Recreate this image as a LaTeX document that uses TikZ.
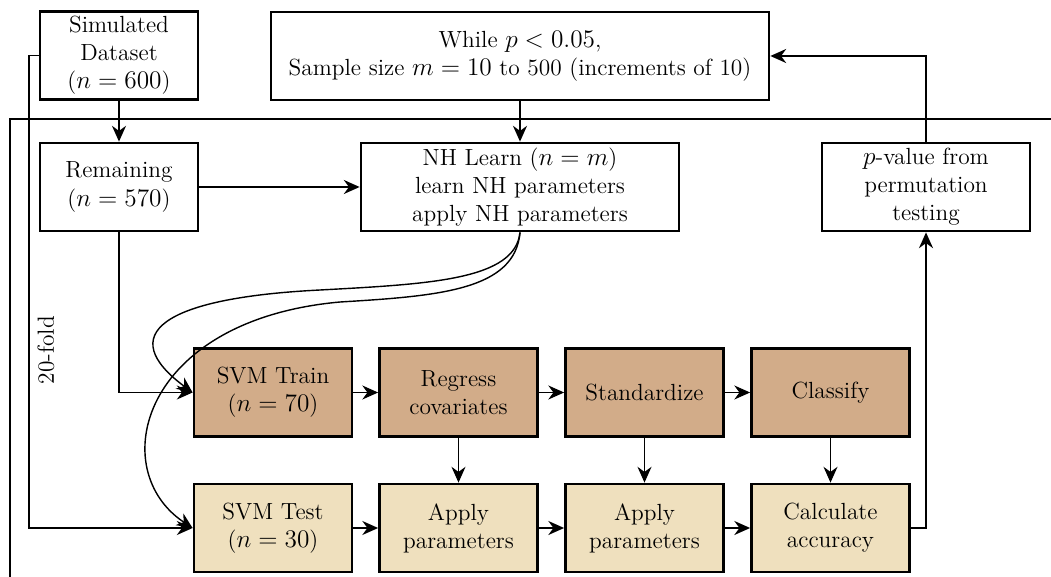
\documentclass[tikz,border=0pt]{standalone}
\usepackage{tikz}
\usetikzlibrary{arrows.meta}
\definecolor{trainfill}{RGB}{210,172,137}
\definecolor{testfill}{RGB}{239,224,190}
\tikzset{
    txt/.style={font=\fontsize{13.3}{16}\selectfont},
    box/.style={txt, draw, line width=1.6pt, align=center, inner sep=2pt,
        minimum height=1.76cm},
    arr/.style={line width=0.8pt, -{Stealth[length=9pt,width=8pt]}},
}

\begin{document}
\begin{tikzpicture}[x=0.02cm, y=-0.02cm]
    \useasboundingbox (0,0) rectangle (1051,577);
    % outer frame (open to the right and bottom)
    \draw[line width=1.6pt] (10,577)--(10,119)--(1051,119);

    \node[box, minimum width=3.16cm] (sim) at (119,55.5) {Simulated\\Dataset\\($n=600$)};
    \node[box, minimum width=9.96cm] (loop) at (520,56) {While $p<0.05$,\\Sample size $m=10$ to 500 (increments of 10)};
    \node[box, minimum width=3.16cm] (remain) at (119,187) {Remaining\\($n=570$)};
    \node[box, minimum width=6.36cm] (nhlearn) at (520,187) {NH Learn ($n=m$)\\learn NH parameters\\apply NH parameters};
    \node[box, minimum width=4.16cm] (pval) at (926,187) {$p$-value from\\permutation\\testing};

    \def\xs{273,458.5,644.5,830.5}
    \def\up{{SVM Train\\($n=70$)},{Regress\\covariates},Standardize,Classify}
    \def\down{{SVM Test\\($n=30$)},{Apply\\parameters},{Apply\\parameters},{Calculate\\accuracy}}
    \foreach \t [count=\i from 1] in \up {
        \pgfmathsetmacro\x{{\xs}[\i-1]}
        \node[box, fill=trainfill, minimum width=3.16cm] (u\i) at (\x,392.5) {\t};
    }
    \foreach \t [count=\i from 1] in \down {
        \pgfmathsetmacro\x{{\xs}[\i-1]}
        \node[box, fill=testfill, minimum width=3.16cm] (d\i) at (\x,528) {\t};
    }

    \coordinate (foldx) at (29,55.5);
    \draw[arr] (sim) -- (remain);
    \draw[arr] (loop) -- (nhlearn);
    \draw[arr] (remain) -- (nhlearn);
    \draw[arr] (remain.south) |- (u1.west);
    \draw[arr] (sim.west) -- (foldx) |- (d1.west);
    \node[txt, rotate=90] (fold) at (46,350) {20-fold};
    \draw[arr] (pval.north) |- (loop.east);
    \draw[arr] (d4.east) -| (pval.south);
    \foreach \i [evaluate=\i as \j using int(\i+1)] in {1,2,3} {
        \draw[arr] (u\i) -- (u\j);
        \draw[arr] (d\i) -- (d\j);
    }
    \foreach \i in {2,3,4} {\draw[arr] (u\i) -- (d\i);}

    % NH parameters are passed to both training and test data
    \draw[arr] (nhlearn.south) .. controls (515,280) and (430,284) .. (320,290)
        .. controls (160,298) and (115,335) .. (u1.west);
    \draw[arr] (nhlearn.south) .. controls (515,290) and (440,296) .. (340,302)
        .. controls (140,320) and (105,470) .. (d1.west);
\end{tikzpicture}
\end{document}
